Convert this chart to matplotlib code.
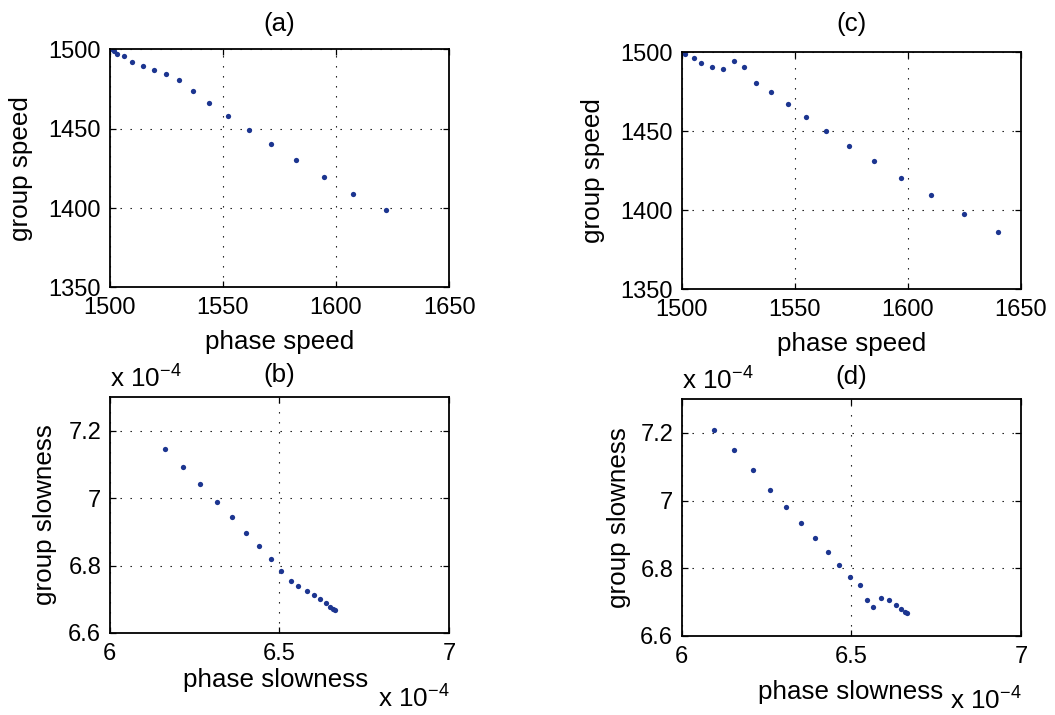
import matplotlib
matplotlib.use("Agg")
import matplotlib.pyplot as plt

plt.rcParams['font.family'] = ['Liberation Sans', 'DejaVu Sans']
plt.rcParams['mathtext.fontset'] = 'custom'
plt.rcParams['mathtext.rm'] = 'Liberation Sans'
plt.rcParams['mathtext.it'] = 'Liberation Sans'
plt.rcParams['mathtext.bf'] = 'Liberation Sans'

# ---- data ----
phase_a = [1500.3, 1501.8, 1503.5, 1506.6, 1510.1, 1514.6, 1519.6, 1525.0, 1530.6,
           1536.9, 1544.1, 1552.2, 1561.5, 1571.3, 1582.5, 1594.6, 1607.6, 1621.9]
group_a = [1500.0, 1499.0, 1497.1, 1495.5, 1492.3, 1489.3, 1486.8, 1484.5, 1480.7,
           1473.7, 1465.9, 1457.8, 1449.2, 1440.1, 1430.1, 1419.8, 1409.0, 1398.8]

phase_c = [1500.3, 1501.5, 1505.3, 1508.8, 1513.3, 1518.4, 1523.4, 1527.5, 1533.0, 1539.5,
           1546.9, 1555.0, 1564.0, 1574.0, 1585.1, 1596.9, 1610.2, 1624.7, 1640.0]
group_c = [1500.0, 1499.0, 1496.1, 1493.3, 1490.8, 1489.1, 1494.6, 1490.6, 1480.2, 1474.5,
           1467.5, 1459.1, 1450.0, 1440.7, 1431.0, 1420.4, 1409.7, 1397.5, 1386.3]

# slowness values in units of 1e-4
phase_b = [6.163, 6.216, 6.267, 6.316, 6.360, 6.401, 6.440, 6.474, 6.504,
           6.533, 6.556, 6.580, 6.602, 6.620, 6.637, 6.650, 6.658, 6.665]
group_b = [7.145, 7.093, 7.041, 6.990, 6.943, 6.898, 6.858, 6.820, 6.785,
           6.754, 6.738, 6.726, 6.714, 6.701, 6.689, 6.678, 6.672, 6.668]

phase_d = [6.095, 6.154, 6.210, 6.261, 6.308, 6.352, 6.394, 6.431, 6.465, 6.497,
           6.525, 6.547, 6.565, 6.587, 6.610, 6.631, 6.647, 6.658, 6.664]
group_d = [7.209, 7.150, 7.089, 7.032, 6.981, 6.934, 6.890, 6.848, 6.810, 6.775,
           6.751, 6.705, 6.687, 6.712, 6.705, 6.692, 6.681, 6.672, 6.667]

speed_xticks = [1500, 1550, 1600, 1650]
speed_yticks = [1350, 1400, 1450, 1500]
slow_xticks = [6, 6.5, 7]
slow_xticklabels = ['6', '6.5', '7']
slow_yticks = [6.6, 6.8, 7.0, 7.2]
slow_yticklabels = ['6.6', '6.8', '7', '7.2']

TFS = 17      # tick labels
LFS = 18.7    # axis labels / titles
DOT = '#1c3590'

fig = plt.figure(figsize=(10.55, 7.15), dpi=100)

def style(ax):
    ax.tick_params(direction='in', top=True, right=True, length=4, width=0.9,
                   labelsize=TFS)
    ax.tick_params(axis='x', pad=7)
    ax.tick_params(axis='y', pad=6)
    for s in ax.spines.values():
        s.set_linewidth(1.3)
    ax.grid(True, color='black', linewidth=0.8, linestyle=(0, (1.2, 7.8)))
    ax.set_axisbelow(True)

# (a)
ax = fig.add_axes([0.1038, 0.598, 0.322, 0.333])
ax.plot(phase_a, group_a, 'o', color=DOT, ms=3.8, mec='none')
ax.set_xlim(1500, 1650); ax.set_ylim(1350, 1500)
ax.set_xticks(speed_xticks); ax.set_yticks(speed_yticks)
style(ax)
ax.set_title('(a)', fontsize=LFS, pad=13)
ax.set_xlabel('phase speed', fontsize=LFS)
ax.set_ylabel('group speed', fontsize=LFS)
ax.xaxis.set_label_coords(0.5, -0.179)
ax.yaxis.set_label_coords(-0.225, 0.5)

# (c)
ax = fig.add_axes([0.646, 0.5958, 0.3218, 0.3312])
ax.plot(phase_c, group_c, 'o', color=DOT, ms=3.8, mec='none')
ax.set_xlim(1500, 1650); ax.set_ylim(1350, 1500)
ax.set_xticks(speed_xticks); ax.set_yticks(speed_yticks)
style(ax)
ax.set_title('(c)', fontsize=LFS, pad=15)
ax.set_xlabel('phase speed', fontsize=LFS)
ax.set_ylabel('group speed', fontsize=LFS)
ax.xaxis.set_label_coords(0.5, -0.181)
ax.yaxis.set_label_coords(-0.225, 0.5)

# (b)
ax = fig.add_axes([0.1038, 0.1147, 0.322, 0.330])
ax.plot(phase_b, group_b, 'o', color=DOT, ms=3.8, mec='none')
ax.set_xlim(6, 7); ax.set_ylim(6.6, 7.3)
ax.set_xticks(slow_xticks); ax.set_xticklabels(slow_xticklabels)
ax.set_yticks(slow_yticks); ax.set_yticklabels(slow_yticklabels)
style(ax)
ax.set_title('(b)', fontsize=LFS, pad=11)
ax.set_xlabel('phase slowness', fontsize=LFS)
ax.set_ylabel('group slowness', fontsize=LFS)
ax.xaxis.set_label_coords(0.49, -0.148)
ax.yaxis.set_label_coords(-0.155, 0.5)
ax.text(0.0, 1.038, r'x 10$^{-4}$', transform=ax.transAxes, fontsize=LFS,
        ha='left', va='baseline')
ax.text(1.0, -0.318, r'x 10$^{-4}$', transform=ax.transAxes, fontsize=LFS,
        ha='right', va='baseline')

# (d)
ax = fig.add_axes([0.646, 0.1105, 0.3218, 0.3315])
ax.plot(phase_d, group_d, 'o', color=DOT, ms=3.8, mec='none')
ax.set_xlim(6, 7); ax.set_ylim(6.6, 7.3)
ax.set_xticks(slow_xticks); ax.set_xticklabels(slow_xticklabels)
ax.set_yticks(slow_yticks); ax.set_yticklabels(slow_yticklabels)
style(ax)
ax.set_title('(d)', fontsize=LFS, pad=10.5)
ax.set_xlabel('phase slowness', fontsize=LFS)
ax.set_ylabel('group slowness', fontsize=LFS)
ax.xaxis.set_label_coords(0.497, -0.186)
ax.yaxis.set_label_coords(-0.15, 0.5)
ax.text(0.0, 1.038, r'x 10$^{-4}$', transform=ax.transAxes, fontsize=LFS,
        ha='left', va='baseline')
ax.text(1.0, -0.312, r'x 10$^{-4}$', transform=ax.transAxes, fontsize=LFS,
        ha='right', va='baseline')

fig.savefig('out.png', dpi=100, facecolor='white')
